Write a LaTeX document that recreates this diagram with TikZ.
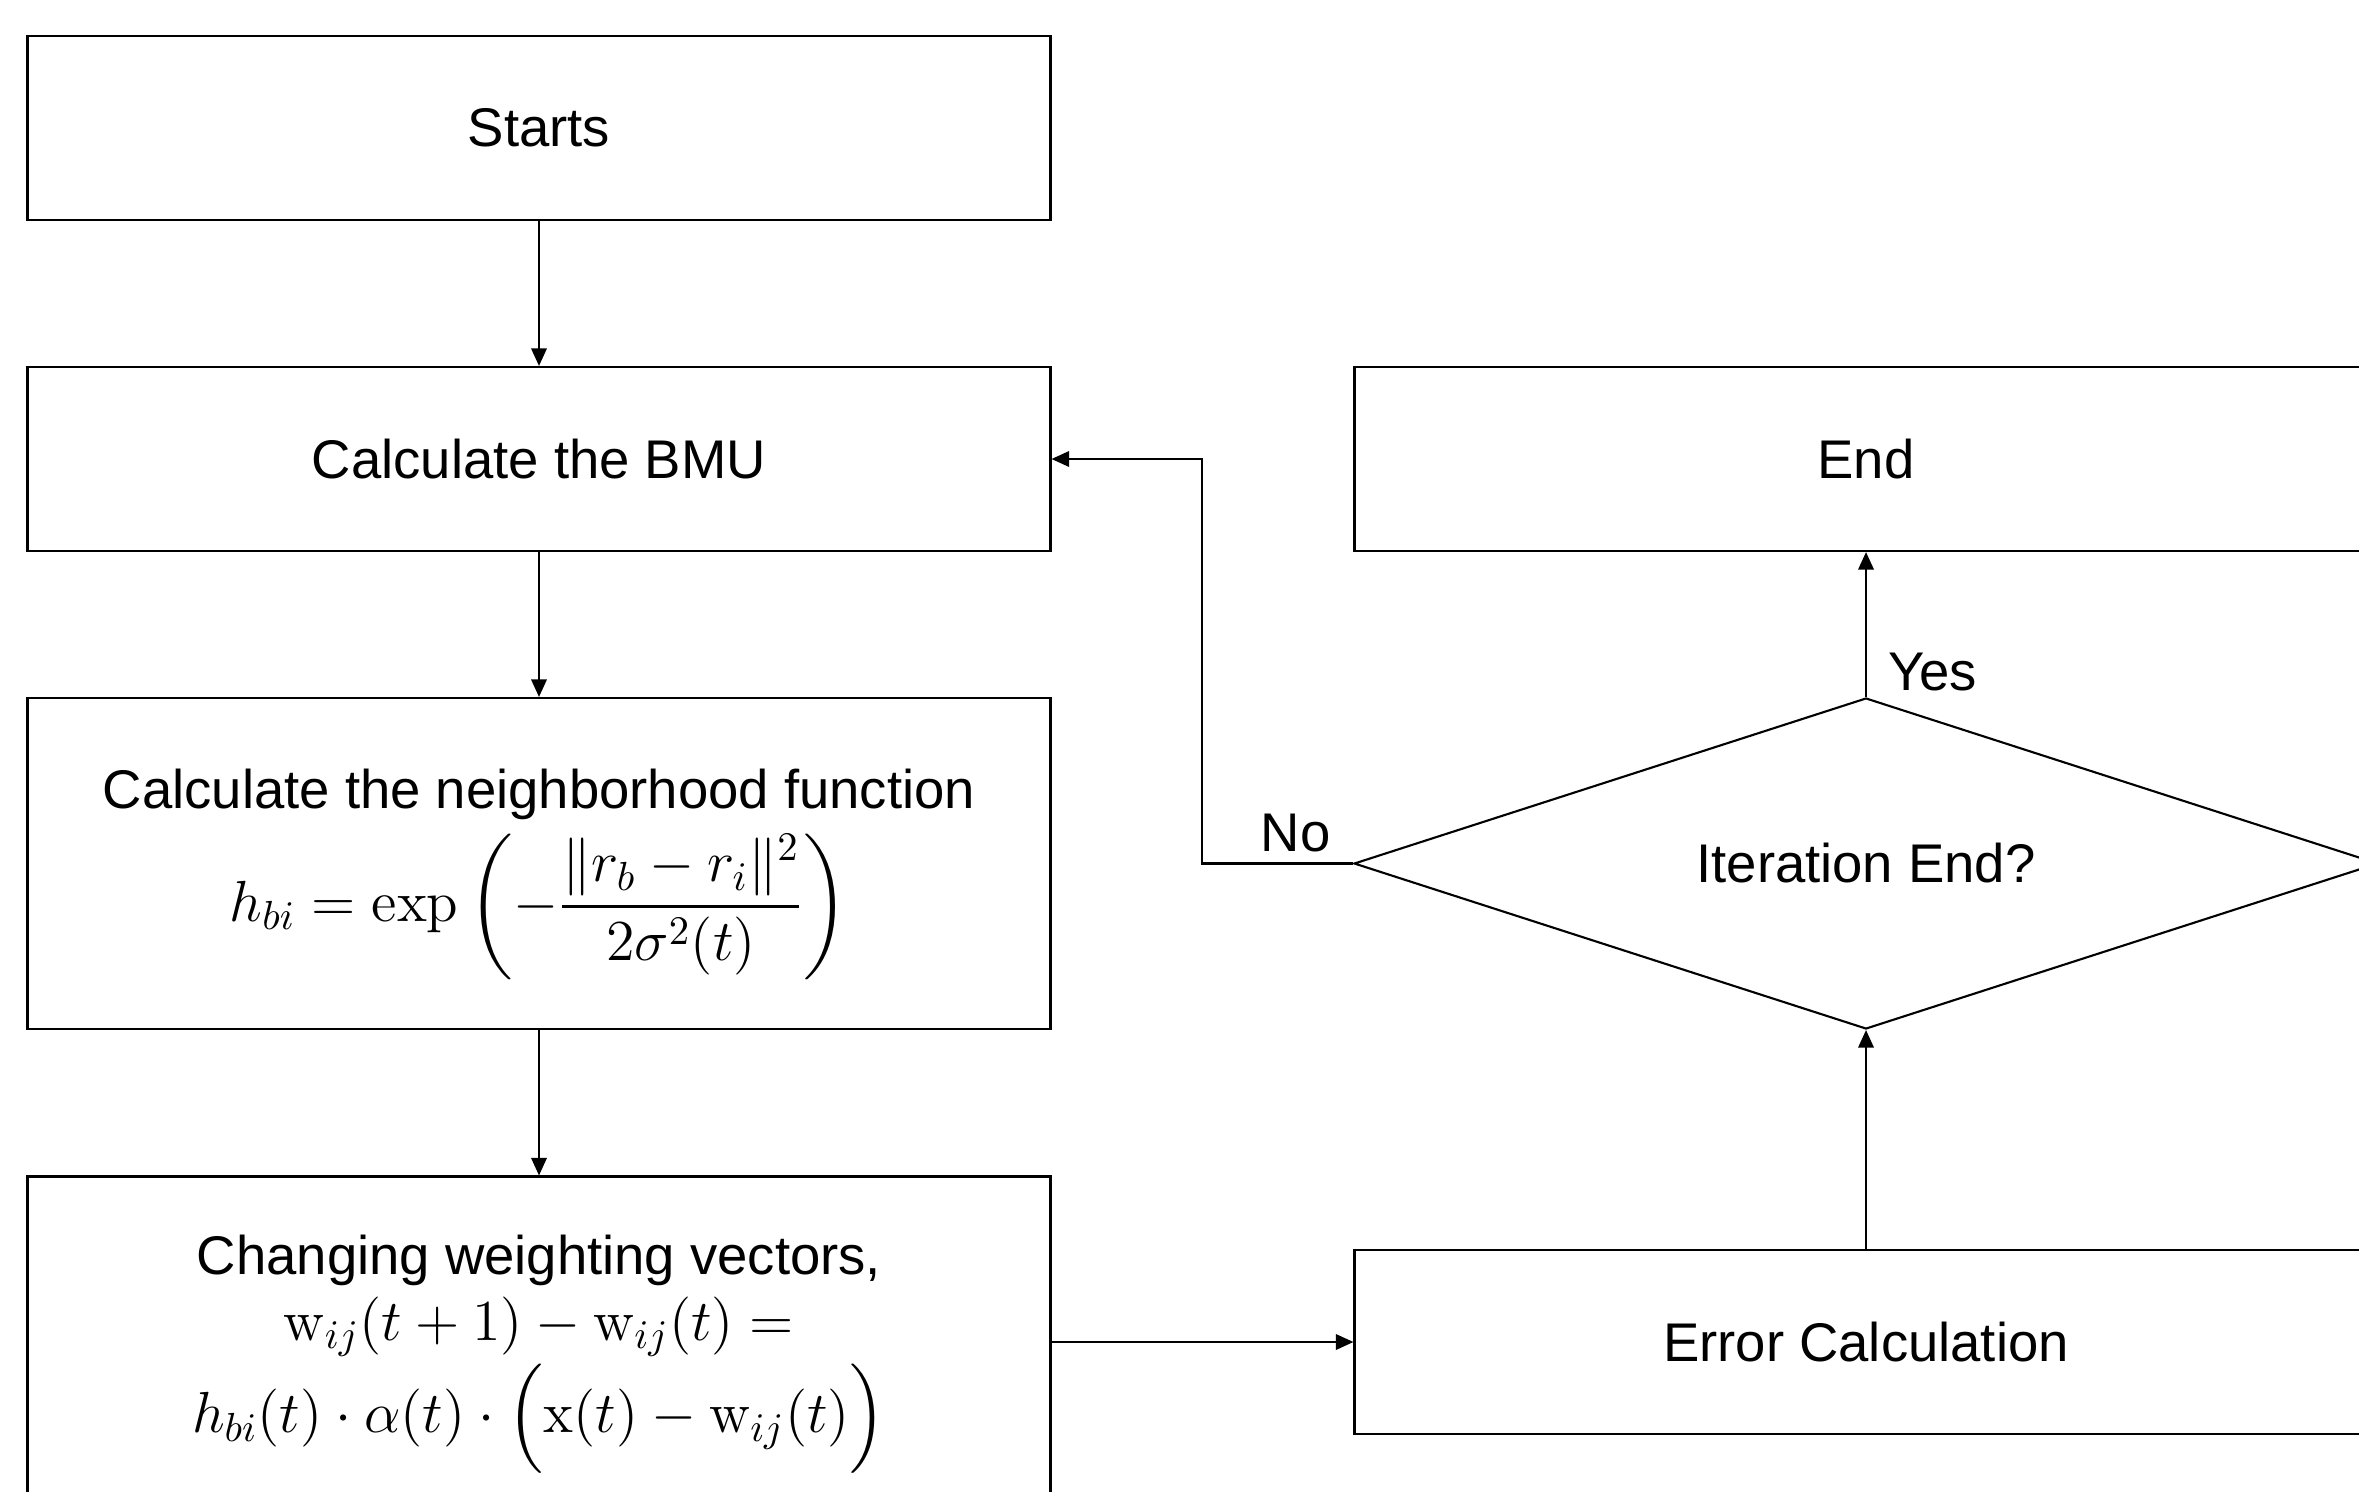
\RequirePackage{fix-cm}
\documentclass[tikz,border=0pt]{standalone}
\usepackage{amsmath}
\usepackage[no-math]{fontspec}
\setmainfont{Liberation Sans}
\usetikzlibrary{shapes.geometric,arrows.meta}

\newcommand{\formsize}{\fontsize{16.5}{19.8}\selectfont}

\begin{document}
\begin{tikzpicture}
	[auto,
	block/.style ={rectangle, draw=black, line width=0.6pt, minimum width=10.23cm, minimum height=1.84cm, align=center, font=\fontsize{15.5}{18.6}\selectfont},
	tall/.style = {block, minimum height=3.31cm},
	decision/.style = {diamond, draw=black, line width=0.6pt, aspect=3.09, minimum width=10.24cm, minimum height=3.31cm, inner sep=0pt, font=\fontsize{15.5}{18.6}\selectfont},
	line/.style ={draw, line width=0.6pt, -{Triangle[length=5pt,width=4.4pt]}},
	answer/.style = {inner sep=1pt, font=\fontsize{15.5}{18.6}\selectfont},
	]

	\clip (0,0) rectangle (23.59,14.91);

	\draw (5.39,13.63) node[block] (S) {Starts};
	\draw (5.39,10.32) node[block] (BMU) {Calculate the BMU};
	\draw (5.39,6.275) node[tall] (NF) {\rule{0pt}{17.3pt}Calculate the neighborhood function\\[3pt]
		{\formsize$\displaystyle h_{bi}=\exp\left(-\frac{\|r_b-r_i\|^2}{2\sigma^2(t)}\right)$}};
	\draw (5.39,1.49) node[tall] (CW) {\rule{0pt}{18.1pt}Changing weighting vectors,\\
		{\formsize$\mathrm{w}_{ij}(t+1)-\mathrm{w}_{ij}(t)=$}\\[1pt]
		{\formsize$h_{bi}(t)\cdot\alpha(t)\cdot\Bigl(\mathrm{x}(t)-\mathrm{w}_{ij}(t)\Bigr)$}};
	\draw (18.66,10.32) node[block] (End) {End};
	\draw (18.66,6.275) node[decision] (IE) {Iteration End?};
	\draw (18.66,1.49) node[block] (EC) {Error Calculation};
	\coordinate (turn) at (12.02,8);

	\path[line]
	(S) edge (BMU)
	(BMU) edge (NF)
	(NF) edge (CW)
	(CW) edge (EC)
	(EC) edge (IE)
	(IE) edge node[answer, right=5pt, pos=0.17] (yes) {Yes} (End);
	\draw[line] (IE.west) -| node[answer, above=2pt, pos=0.19] (no) {No} (turn) |- (BMU.east);
\end{tikzpicture}
\end{document}
